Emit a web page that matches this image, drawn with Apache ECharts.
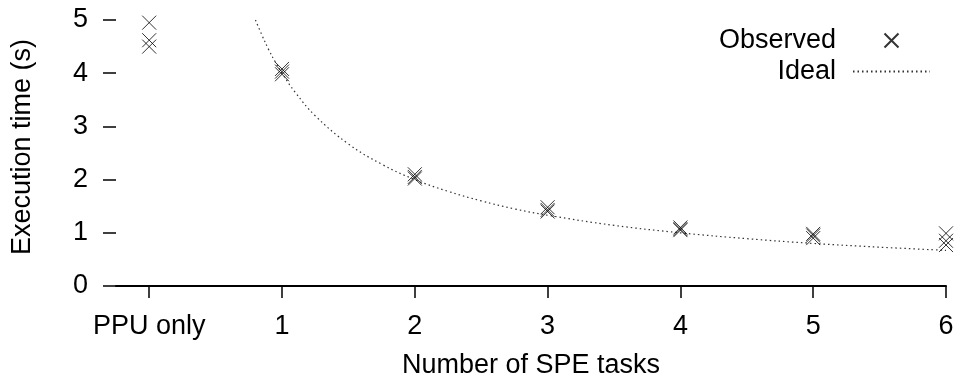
<!DOCTYPE html>
<html>
<head>
<meta charset="utf-8">
<script src="https://cdn.jsdelivr.net/npm/echarts@6/dist/echarts.min.js"></script>
<style>html,body{margin:0;padding:0;background:#fff;}#c{width:961px;height:384px;}</style>
</head>
<body>
<div id="c"></div>
<script>
const tickValues = [0, 1, 2, 3, 4, 5, 6];
const tickLabels = ['PPU only', '1', '2', '3', '4', '5', '6'];
const observedX = [0, 0, 0, 1, 1, 1, 2, 2, 2, 3, 3, 3, 4, 4, 4, 5, 5, 5, 6, 6, 6];
const observedY = [4.95, 4.62, 4.5, 4.08, 4.03, 3.98, 2.1, 2.05, 2.02, 1.48, 1.43, 1.4, 1.1, 1.07, 1.05, 0.98, 0.95, 0.9, 0.99, 0.85, 0.77];
const idealX = [0.8, 0.85, 0.9, 0.95, 1, 1.1, 1.25, 1.5, 1.75, 2, 2.25, 2.5, 2.75, 3, 3.5, 4, 4.5, 5, 5.5, 6];
const idealY = [5.0, 4.71, 4.44, 4.21, 4.0, 3.64, 3.2, 2.67, 2.29, 2.0, 1.78, 1.6, 1.45, 1.33, 1.14, 1.0, 0.89, 0.8, 0.73, 0.67];

const FONT = 'Liberation Sans';
const FS = 27;
const chart = echarts.init(document.getElementById('c'), null, {renderer: 'canvas'});
chart.setOption({
  animation: false,
  backgroundColor: '#fff',
  grid: {left: 116, right: 15, top: 20, bottom: 96, containLabel: false},
  legend: {
    orient: 'vertical', right: 25, top: 22, align: 'right',
    itemWidth: 77, itemHeight: 14, itemGap: 4,
    textStyle: {fontFamily: FONT, fontSize: FS, color: '#000', padding: [0, 12, 0, 0]},
    data: ['Observed', {name: 'Ideal', itemStyle: {color: 'rgba(0,0,0,0)', borderWidth: 0}}]
  },
  xAxis: {
    type: 'value', min: -0.25, max: 6,
    name: 'Number of SPE tasks', nameLocation: 'middle', nameGap: 66,
    nameTextStyle: {fontFamily: FONT, fontSize: FS, color: '#000'},
    axisLine: {show: true, onZero: false, lineStyle: {color: '#000', width: 2}},
    axisTick: {show: true, length: 12, customValues: tickValues, lineStyle: {color: '#000', width: 1.5}},
    axisLabel: {customValues: tickValues, margin: 27, fontFamily: FONT, fontSize: FS, color: '#000',
      formatter: v => tickLabels[tickValues.indexOf(v)]},
    splitLine: {show: false}
  },
  yAxis: {
    type: 'value', min: 0, max: 5, interval: 1,
    name: 'Execution time (s)', nameLocation: 'middle', nameGap: 80,
    nameTextStyle: {fontFamily: FONT, fontSize: FS, color: '#000', padding: [0, 0, 0, 12]},
    axisLine: {show: false, onZero: false},
    axisTick: {show: true, length: 13, lineStyle: {color: '#000', width: 1.5}},
    axisLabel: {margin: 28, fontFamily: FONT, fontSize: FS, color: '#000'},
    splitLine: {show: false}
  },
  series: [
    {
      name: 'Observed', type: 'scatter',
      symbol: 'path://M0,0L10,10M10,0L0,10', symbolSize: 14,
      itemStyle: {color: 'transparent', borderColor: '#000', borderWidth: 1},
      data: observedX.map((x, i) => [x, observedY[i]]),
      z: 3
    },
    {
      name: 'Ideal', type: 'line', symbol: 'none', showSymbol: false, smooth: 0.4,
      itemStyle: {color: 'rgba(0,0,0,0)'},
      lineStyle: {color: '#333', width: 1.2, type: [1.5, 3]},
      data: idealX.map((x, i) => [x, idealY[i]]),
      z: 2
    }
  ]
});
</script>
</body>
</html>
